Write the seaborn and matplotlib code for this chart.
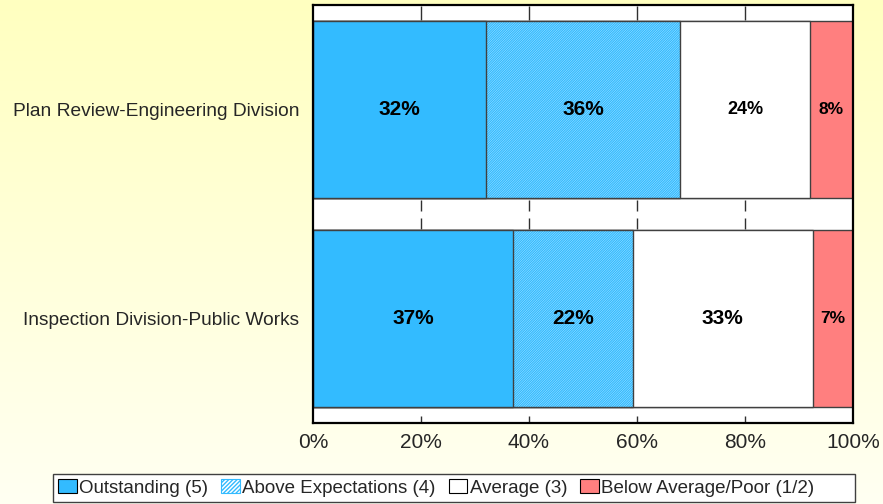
import numpy as np
import pandas as pd
import matplotlib
matplotlib.use("Agg")
import matplotlib.pyplot as plt
import seaborn as sns
from matplotlib.patches import Patch, Rectangle

# data (percent of responses)
divisions = ["Plan Review-Engineering Division", "Inspection Division-Public Works"]
ratings = ["Outstanding (5)", "Above Expectations (4)", "Average (3)", "Below Average/Poor (1/2)"]
outstanding = [32.0, 37.0]
above_expectations = [36.0, 22.2]
average = [24.0, 33.4]
below_average = [8.0, 7.4]
tick_values = [0, 20, 40, 60, 80, 100]

# styling per rating
blue = "#33BBFF"
face = {ratings[0]: blue, ratings[1]: "white", ratings[2]: "white", ratings[3]: "#FF7F7F"}
hatch = {ratings[1]: "//////////////"}
label_size = [[15, 15, 13, 12.5], [15, 15, 15, 12.5]]

sns.set_style("white")
plt.rcParams["font.family"] = ["Liberation Sans", "DejaVu Sans"]
plt.rcParams["hatch.linewidth"] = 1.0

df = pd.DataFrame({
    "division": divisions,
    ratings[0]: outstanding,
    ratings[1]: above_expectations,
    ratings[2]: average,
    ratings[3]: below_average,
})
shares = df[ratings].to_numpy(dtype=float)
cum = shares.cumsum(axis=1)
left = cum - shares

fig = plt.figure(figsize=(8.83, 5.04), dpi=100)

# soft yellow background gradient
bg = fig.add_axes([0, 0, 1, 1], zorder=-10)
grad = np.linspace(0, 1, 256).reshape(-1, 1)
top_c = np.array([255, 255, 192]) / 255
bot_c = np.array([255, 255, 242]) / 255
img = top_c + (bot_c - top_c) * grad[:, :, None]
bg.imshow(img, aspect="auto", extent=[0, 1, 0, 1])
bg.set_axis_off()

ax = fig.add_axes([313 / 883, 1 - 423 / 504, 540 / 883, 418 / 504])
ax.set_facecolor("white")

edge = "#404040"
# stacked bars: draw cumulative totals from the longest to the shortest
for j in range(len(ratings) - 1, -1, -1):
    r = ratings[j]
    plot_df = pd.DataFrame({"division": divisions, "value": cum[:, j]})
    if r in hatch:
        sns.barplot(data=plot_df, x="value", y="division", orient="h", ax=ax,
                    color="white", saturation=1, width=0.85, errorbar=None,
                    hatch=hatch[r], edgecolor=blue, linewidth=0)
        sns.barplot(data=plot_df, x="value", y="division", orient="h", ax=ax,
                    facecolor="none", saturation=1, width=0.85, errorbar=None,
                    edgecolor=edge, linewidth=1.0)
    else:
        sns.barplot(data=plot_df, x="value", y="division", orient="h", ax=ax,
                    color=face[r], saturation=1, width=0.85, errorbar=None,
                    edgecolor=edge, linewidth=1.0)

# percentage labels in the middle of each segment
for i in range(len(divisions)):
    for j in range(len(ratings)):
        ax.text(left[i, j] + shares[i, j] / 2, i, f"{int(shares[i, j])}%",
                ha="center", va="center", fontsize=label_size[i][j],
                fontweight="bold", color="black", zorder=5)

ax.set_xlim(0, 100)
ax.set_ylim(1.5, -0.5)
ax.set_xticks(tick_values)
ax.set_xticklabels([f"{v}%" for v in tick_values], fontsize=15)
ax.tick_params(axis="x", length=0, pad=7)
ax.tick_params(axis="y", length=0, pad=10, labelsize=13.8)
ax.set_xlabel("")
ax.set_ylabel("")

# short grid marks visible in the white strips
xt = ax.get_xaxis_transform()
for v in tick_values[1:-1]:
    for y0, y1 in [(0.0, 0.017), (0.464, 0.49), (0.507, 0.533), (0.964, 0.998)]:
        ax.vlines(v, y0, y1, transform=xt, color="#303030", linewidth=1.0, zorder=0.5)

for s in ax.spines.values():
    s.set_visible(True)
    s.set_color("black")
    s.set_linewidth(1.6)

handles = []
for r in ratings:
    if r in hatch:
        handles.append(Patch(facecolor="white", edgecolor=blue, hatch="////////", label=r, linewidth=0.8))
    else:
        handles.append(Patch(facecolor=face[r], edgecolor="black", label=r, linewidth=0.8))
leg = fig.legend(handles=handles, loc="center left", bbox_to_anchor=(58 / 883, 1 - 488 / 504),
                 ncol=4, fontsize=13.5, frameon=False, handlelength=1.0, handleheight=0.72,
                 handletextpad=0.12, columnspacing=0.7, borderpad=0, borderaxespad=0)

# legend box, wider than its entries as in the reference
fig.patches.append(Rectangle((53 / 883, 1 - 502 / 504), 802 / 883, 28 / 504,
                             transform=fig.transFigure, facecolor="white",
                             edgecolor=edge, linewidth=1.0, zorder=-1))

fig.savefig("out.png", dpi=100)
